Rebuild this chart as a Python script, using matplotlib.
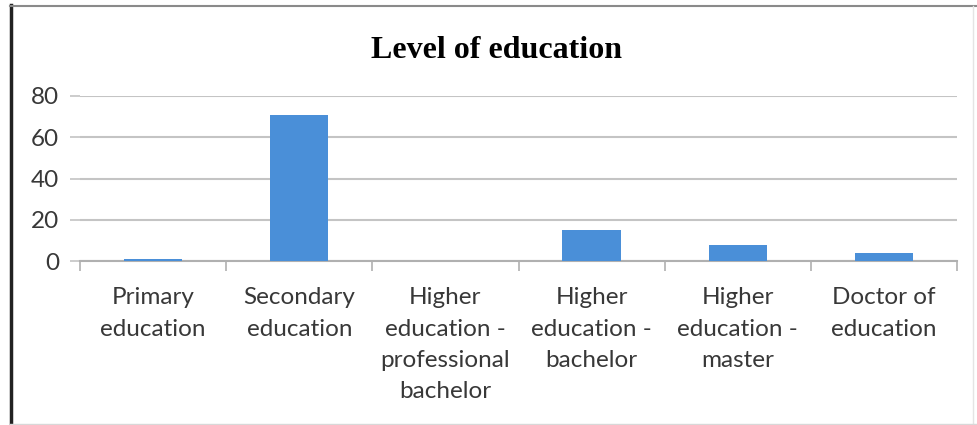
import matplotlib.pyplot as plt
from matplotlib.lines import Line2D
import numpy as np

# Level of education - number of respondents
categories = ['Primary\neducation', 'Secondary\neducation',
              'Higher\neducation -\nprofessional\nbachelor',
              'Higher\neducation -\nbachelor', 'Higher\neducation -\nmaster',
              'Doctor of\neducation']
counts = [1, 71, 0, 15, 8, 4]
yticks = [0, 20, 40, 60, 80]

W, H = 977, 425
fig = plt.figure(figsize=(W / 100, H / 100), dpi=100)
ax = fig.add_axes([80 / W, 1 - 261 / H, (957 - 80) / W, (261 - 96) / H])

x = np.arange(len(categories))
ax.bar(x, counts, width=0.4, color='#4a8fd8', zorder=3)

ax.set_xlim(-0.5, len(categories) - 0.5)
ax.set_ylim(0, 80)
ax.set_yticks(yticks)
ax.yaxis.grid(True, color='#c4c4c4', linewidth=1.5, zorder=0)

ax.set_xticks(x)
ax.set_xticklabels(categories, family='Lato', fontsize=17.5, color='#383838',
                   linespacing=1.6)
ax.set_xticks(np.arange(len(categories) + 1) - 0.5, minor=True)
ax.tick_params(axis='x', which='major', length=0, pad=19)
ax.tick_params(axis='x', which='minor', length=7, width=1.2, color='#b0b0b0')
ax.tick_params(axis='y', length=7, width=1.2, color='#c4c4c4', pad=8,
               labelsize=17.5, labelcolor='#383838')
for lab in ax.get_yticklabels():
    lab.set_family('Lato')

for side in ['top', 'right', 'left']:
    ax.spines[side].set_visible(False)
ax.spines['bottom'].set_color('#b0b0b0')
ax.spines['bottom'].set_linewidth(1.5)

fig.text(497 / W, 1 - 50 / H, 'Level of education', ha='center', va='center',
         family='Liberation Serif', fontweight='bold', fontsize=23)

# outer frame
fig.add_artist(Line2D([11 / W, 11 / W], [0, 1 - 5 / H], color='#222222',
                      linewidth=2.5, transform=fig.transFigure))
fig.add_artist(Line2D([10 / W, 1], [1 - 6 / H, 1 - 6 / H], color='#8a8a8a',
                      linewidth=1.5, transform=fig.transFigure))
fig.add_artist(Line2D([973 / W, 973 / W], [0, 1 - 6 / H], color='#e4e4e4',
                      linewidth=1, transform=fig.transFigure))
fig.add_artist(Line2D([10 / W, 1], [1.5 / H, 1.5 / H], color='#d8d8d8',
                      linewidth=1, transform=fig.transFigure))

fig.savefig('out.png', dpi=100)
